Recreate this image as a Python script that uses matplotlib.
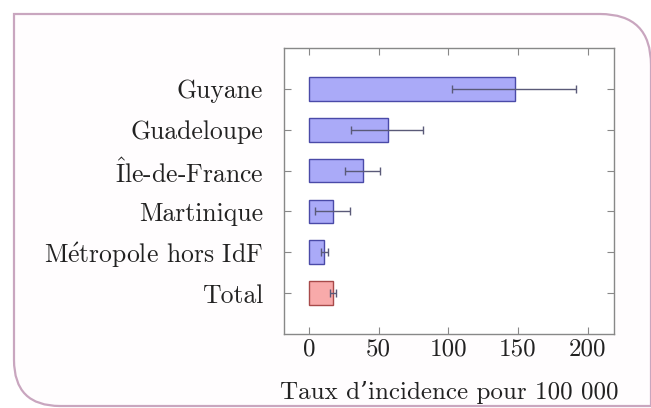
import matplotlib
matplotlib.use("Agg")
import matplotlib.pyplot as plt
from matplotlib.patches import PathPatch
from matplotlib.path import Path

plt.rcParams['font.family'] = ['cmr10', 'DejaVu Serif']
plt.rcParams['axes.formatter.use_mathtext'] = True
plt.rcParams['mathtext.fontset'] = 'cm'

categories = ["Guyane", "Guadeloupe", "Île-de-France", "Martinique", "Métropole hors IdF", "Total"]
values = [148, 57, 39, 17, 11, 17]
err_low = [103, 30, 26, 4, 8.5, 15]
err_high = [192, 82, 51, 29.5, 13.5, 19]
x_ticks = [0, 50, 100, 150, 200]
xlabel = "Taux d\u2019incidence pour 100 000"

def tex_label(s):
    # render accented characters via mathtext in Computer Modern
    rep = {"é": r"$\acute{\mathrm{e}}$", "Î": r"$\hat{\mathrm{I}}$"}
    return "".join(rep.get(c, c) for c in s)

W, H = 651, 408
fig = plt.figure(figsize=(6.51, 4.08), dpi=100)

def f(p):
    return (p[0] / W, 1 - p[1] / H)

pts = [f((14, 14)), f((600, 14)), f((651, 14)), f((651, 65)), f((651, 406)),
       f((60, 406)), f((14, 406)), f((14, 360)), f((14, 14))]
codes = [Path.MOVETO, Path.LINETO, Path.CURVE3, Path.CURVE3, Path.LINETO,
         Path.LINETO, Path.CURVE3, Path.CURVE3, Path.CLOSEPOLY]
card = PathPatch(Path(pts, codes), transform=fig.transFigure, facecolor='#fffdfe',
                 edgecolor='#c9a6bf', lw=1.6, zorder=-5)
fig.patches.append(card)

ax = fig.add_axes([284 / W, 1 - 334 / H, 330 / W, 286 / H])
ax.set_zorder(2)
ax.set_facecolor('white')
n = len(categories)
ypos = [n - 1 - i for i in range(n)]
colors = ['#aaaaf8'] * (n - 1) + ['#f8aaaa']
edges = ['#4a4aa8'] * (n - 1) + ['#a84a4a']
ax.barh(ypos, values, height=0.58, color=colors, edgecolor=edges, linewidth=1.0, zorder=2)
xerr = [[v - lo for v, lo in zip(values, err_low)], [hi - v for v, hi in zip(values, err_high)]]
ax.errorbar(values, ypos, xerr=xerr, fmt='none', ecolor='#5a5a78', elinewidth=1.0,
            capsize=3.0, capthick=1.0, zorder=3)

ax.set_xlim(-18, 219)
ax.set_ylim(-1, n)
ax.set_yticks(ypos)
ax.set_yticklabels([tex_label(c) for c in categories], fontsize=18.5, color='#222222')
ax.set_xticks(x_ticks)
ax.set_xticklabels([str(t) for t in x_ticks], fontsize=18, color='#222222')
ax.set_xlabel(xlabel, fontsize=18, color='#222222', labelpad=15)
ax.tick_params(direction='in', length=5, width=0.8, color='#888888', top=True, right=True)
ax.tick_params(axis='y', pad=15)
ax.tick_params(axis='x', pad=3)
for s in ax.spines.values():
    s.set_color('#888888')
    s.set_linewidth(1.0)

fig.savefig("out.png", dpi=100)
